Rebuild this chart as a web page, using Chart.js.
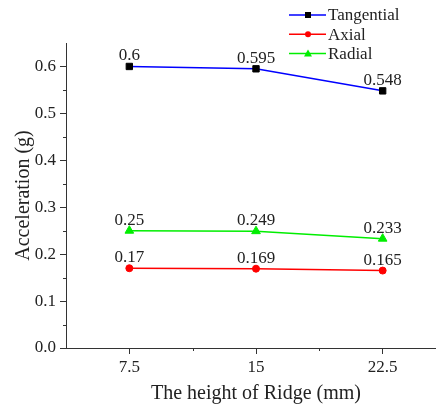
<!DOCTYPE html>
<html>
<head>
<meta charset="utf-8">
<script src="https://cdn.jsdelivr.net/npm/chart.js@4.4.1/dist/chart.umd.min.js"></script>
<style>
    html, body { margin: 0; padding: 0; background: #fff; overflow: hidden; }
    #box { width: 452px; height: 410px; }
</style>
</head>
<body>
<div id="box"><canvas id="grafico"></canvas></div>
<script>
const alturas = [7.5, 15, 22.5];
const tangencial = [0.6, 0.595, 0.548];
const axial = [0.17, 0.169, 0.165];
const radial = [0.25, 0.249, 0.233];
const ticksX = [7.5, 15, 22.5];
const ticksY = [0, 0.1, 0.2, 0.3, 0.4, 0.5, 0.6];

const fonte = 'Liberation Serif, Times New Roman, serif';

function pontos(valores) {
    return alturas.map((x, i) => ({ x: x, y: valores[i] }));
}

// rótulos de valor acima de cada ponto
const rotulos = {
    id: 'rotulos',
    afterDatasetsDraw(chart) {
        const ctx = chart.ctx;
        ctx.save();
        ctx.font = '17px ' + fonte;
        ctx.fillStyle = '#222';
        ctx.textAlign = 'center';
        ctx.textBaseline = 'alphabetic';
        chart.data.datasets.forEach((ds, i) => {
            chart.getDatasetMeta(i).data.forEach((p, j) => {
                ctx.fillText(String(ds.data[j].y), p.x, p.y - 6);
            });
        });
        ctx.restore();
    }
};

// ticks menores
const eixos = {
    id: 'eixos',
    afterDraw(chart) {
        const ctx = chart.ctx;
        const a = chart.chartArea;
        const x = chart.scales.x, y = chart.scales.y;
        ctx.save();
        ctx.strokeStyle = '#333';
        ctx.lineWidth = 1;
        ctx.beginPath();
        [0.05, 0.15, 0.25, 0.35, 0.45, 0.55].forEach(v => {
            const py = Math.round(y.getPixelForValue(v)) + 0.5;
            ctx.moveTo(a.left, py);
            ctx.lineTo(a.left - 3, py);
        });
        [11.25, 18.75].forEach(v => {
            const px = Math.round(x.getPixelForValue(v)) + 0.5;
            ctx.moveTo(px, a.bottom);
            ctx.lineTo(px, a.bottom + 3);
        });
        ctx.stroke();
        ctx.restore();
    }
};

// legenda com linha + marcador
const legenda = {
    id: 'legenda',
    afterDraw(chart) {
        const ctx = chart.ctx;
        ctx.save();
        ctx.font = '17px ' + fonte;
        ctx.textBaseline = 'middle';
        chart.data.datasets.forEach((ds, i) => {
            const yy = 15 + i * 19.3;
            ctx.strokeStyle = ds.borderColor;
            ctx.lineWidth = 1.5;
            ctx.beginPath();
            ctx.moveTo(289, yy);
            ctx.lineTo(326, yy);
            ctx.stroke();
            ctx.fillStyle = ds.pointBackgroundColor;
            const cx = 308;
            if (ds.pointStyle === 'rect') {
                ctx.fillRect(cx - 3, yy - 3, 6, 6);
            } else if (ds.pointStyle === 'circle') {
                ctx.beginPath();
                ctx.arc(cx, yy, 3, 0, Math.PI * 2);
                ctx.fill();
            } else {
                ctx.beginPath();
                ctx.moveTo(cx, yy - 4);
                ctx.lineTo(cx + 4, yy + 3);
                ctx.lineTo(cx - 4, yy + 3);
                ctx.closePath();
                ctx.fill();
            }
            ctx.fillStyle = '#222';
            ctx.fillText(ds.label, 328, yy + 1);
        });
        ctx.restore();
    }
};

const ctx = document.getElementById('grafico').getContext('2d');
window.graficoChart = new Chart(ctx, {
    type: 'line',
    data: {
        datasets: [
            {
                label: 'Tangential',
                data: pontos(tangencial),
                borderColor: '#0000ff',
                pointBackgroundColor: '#000000',
                pointBorderColor: '#000000',
                pointStyle: 'rect',
                pointRadius: 4.5
            },
            {
                label: 'Axial',
                data: pontos(axial),
                borderColor: '#ff0000',
                pointBackgroundColor: '#ff0000',
                pointBorderColor: '#ff0000',
                pointStyle: 'circle',
                pointRadius: 3.5
            },
            {
                label: 'Radial',
                data: pontos(radial),
                borderColor: '#00ee00',
                pointBackgroundColor: '#00ee00',
                pointBorderColor: '#00ee00',
                pointStyle: 'triangle',
                pointRadius: 5
            }
        ]
    },
    options: {
        responsive: true,
        maintainAspectRatio: false,
        animation: false,
        layout: { padding: { top: 43, right: 0, left: 0, bottom: 0 } },
        plugins: {
            legend: { display: false },
            tooltip: { enabled: false }
        },
        elements: {
            line: { borderWidth: 1.5, tension: 0 }
        },
        scales: {
            x: {
                type: 'linear',
                min: 3.75,
                max: 26.25,
                afterFit: s => { s.height = 62; },
                afterBuildTicks: s => { s.ticks = ticksX.map(v => ({ value: v })); },
                border: { color: '#333', width: 1 },
                grid: { drawOnChartArea: false, tickLength: 6, color: '#333' },
                ticks: {
                    color: '#222',
                    font: { family: fonte, size: 17 },
                    padding: 3,
                    maxRotation: 0,
                    callback: v => String(v)
                },
                title: {
                    display: true,
                    text: 'The height of Ridge (mm)',
                    color: '#222',
                    font: { family: fonte, size: 20 },
                    padding: { top: 4 }
                }
            },
            y: {
                min: 0,
                max: 0.65,
                afterFit: s => { s.width = 66; },
                afterBuildTicks: s => { s.ticks = ticksY.map(v => ({ value: v })); },
                border: { color: '#333', width: 1 },
                grid: { drawOnChartArea: false, tickLength: 6, color: '#333' },
                ticks: {
                    color: '#222',
                    font: { family: fonte, size: 17 },
                    padding: 4,
                    callback: v => v.toFixed(1)
                },
                title: {
                    display: true,
                    text: 'Acceleration (g)',
                    color: '#222',
                    font: { family: fonte, size: 20 },
                    padding: { top: 12, bottom: 0 }
                }
            }
        }
    },
    plugins: [rotulos, eixos, legenda]
});
</script>
</body>
</html>
